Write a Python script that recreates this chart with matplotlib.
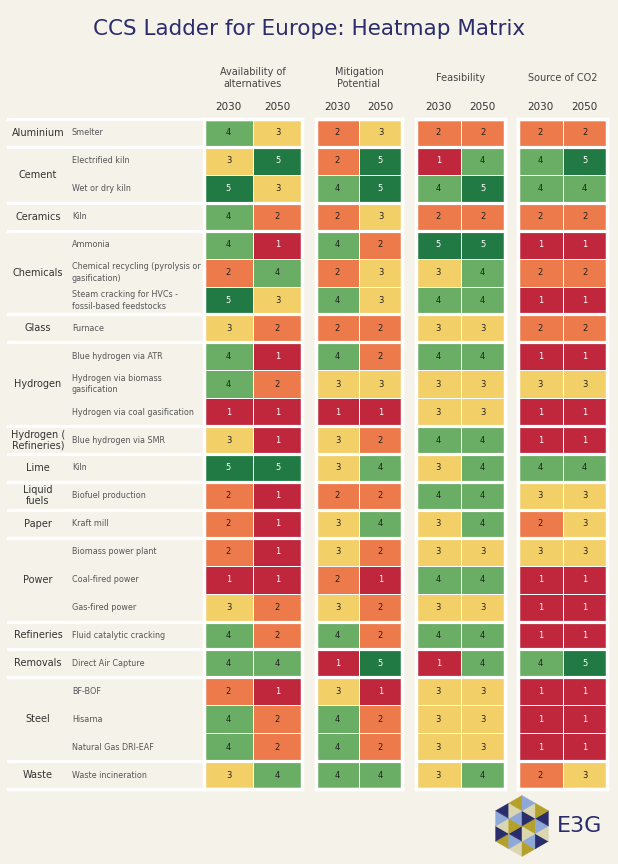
import textwrap
import matplotlib
matplotlib.use("Agg")
import matplotlib.pyplot as plt
import numpy as np
from matplotlib.colors import ListedColormap, BoundaryNorm
from matplotlib.patches import Polygon

W, H = 618, 864
BG = "#f5f2ea"
NAVY = "#2b2c6b"

sectors = ["Aluminium", "Cement", "Cement", "Ceramics", "Chemicals", "Chemicals", "Chemicals",
           "Glass", "Hydrogen", "Hydrogen", "Hydrogen", "Hydrogen ( Refineries)", "Lime",
           "Liquid fuels", "Paper", "Power", "Power", "Power", "Refineries", "Removals",
           "Steel", "Steel", "Steel", "Waste"]
processes = ["Smelter", "Electrified kiln", "Wet or dry kiln", "Kiln", "Ammonia",
             "Chemical recycling (pyrolysis or gasification)",
             "Steam cracking for HVCs - fossil-based feedstocks", "Furnace",
             "Blue hydrogen via ATR", "Hydrogen via biomass gasification",
             "Hydrogen via coal gasification", "Blue hydrogen via SMR", "Kiln",
             "Biofuel production", "Kraft mill", "Biomass power plant", "Coal-fired power",
             "Gas-fired power", "Fluid catalytic cracking", "Direct Air Capture", "BF-BOF",
             "Hisarna", "Natural Gas DRI-EAF", "Waste incineration"]

avail_2030 = [4, 3, 5, 4, 4, 2, 5, 3, 4, 4, 1, 3, 5, 2, 2, 2, 1, 3, 4, 4, 2, 4, 4, 3]
avail_2050 = [3, 5, 3, 2, 1, 4, 3, 2, 1, 2, 1, 1, 5, 1, 1, 1, 1, 2, 2, 4, 1, 2, 2, 4]
mitig_2030 = [2, 2, 4, 2, 4, 2, 4, 2, 4, 3, 1, 3, 3, 2, 3, 3, 2, 3, 4, 1, 3, 4, 4, 4]
mitig_2050 = [3, 5, 5, 3, 2, 3, 3, 2, 2, 3, 1, 2, 4, 2, 4, 2, 1, 2, 2, 5, 1, 2, 2, 4]
feas_2030 = [2, 1, 4, 2, 5, 3, 4, 3, 4, 3, 3, 4, 3, 4, 3, 3, 4, 3, 4, 1, 3, 3, 3, 3]
feas_2050 = [2, 4, 5, 2, 5, 4, 4, 3, 4, 3, 3, 4, 4, 4, 4, 3, 4, 3, 4, 4, 3, 3, 3, 4]
source_2030 = [2, 4, 4, 2, 1, 2, 1, 2, 1, 3, 1, 1, 4, 3, 2, 3, 1, 1, 1, 4, 1, 1, 1, 2]
source_2050 = [2, 5, 4, 2, 1, 2, 1, 2, 1, 3, 1, 1, 4, 3, 3, 3, 1, 1, 1, 5, 1, 1, 1, 3]

criteria = ["Availability of\nalternatives", "Mitigation\nPotential", "Feasibility", "Source of CO2"]
years = ["2030", "2050"]
score_colors = ["#c0273d", "#ed7a4a", "#f3cf68", "#6aae65", "#217a44"]


def box(x0, y0, x1, y1):
    # pixel box (top-left origin) -> figure rect
    return [x0 / W, 1 - y1 / H, (x1 - x0) / W, (y1 - y0) / H]


fig = plt.figure(figsize=(W / 100, H / 100), dpi=100, facecolor=BG)
fig.text(0.5, 1 - 29 / H, "CCS Ladder for Europe: Heatmap Matrix", ha="center", va="center",
         fontsize=15.5, color=NAVY)

TOP, BOT = 119, 789
n = len(processes)
bounds = [0] + [i for i in range(1, n) if sectors[i] != sectors[i - 1]] + [n]

cmap = ListedColormap(score_colors)
norm = BoundaryNorm(np.arange(0.5, 6), cmap.N)

# label column
lab = fig.add_axes(box(8, TOP, 204, BOT))
lab.set_xlim(0, 196); lab.set_ylim(n, 0); lab.axis("off")
for b in bounds:
    lab.axhline(b, color="white", lw=2.3, clip_on=False)
for a, b in zip(bounds[:-1], bounds[1:]):
    lab.text(30, (a + b) / 2, textwrap.fill(sectors[a], 10, break_long_words=False),
             ha="center", va="center", fontsize=7, color="#333333", linespacing=1.1)
for i, p in enumerate(processes):
    lab.text(64, i + 0.5, textwrap.fill(p, 32, break_on_hyphens=False), ha="left", va="center",
             fontsize=5.8, color="#555555", linespacing=1.3)

blocks = [(204, 302), (316, 402), (416, 505), (518, 607)]
values = [(avail_2030, avail_2050), (mitig_2030, mitig_2050),
          (feas_2030, feas_2050), (source_2030, source_2050)]
for (x0, x1), title, (v30, v50) in zip(blocks, criteria, values):
    ax = fig.add_axes(box(x0, TOP, x1, BOT))
    z = np.column_stack([v30, v50])
    ax.pcolormesh(z, cmap=cmap, norm=norm, edgecolors="white", linewidth=0.5)
    ax.set_xlim(0, 2); ax.set_ylim(n, 0)
    for i in range(n):
        for j in range(2):
            ax.text(j + 0.5, i + 0.5, str(z[i, j]), ha="center", va="center", fontsize=6,
                    color="white" if z[i, j] in (1, 5) else "#222222")
    for b in bounds:
        ax.axhline(b, color="white", lw=2.3, clip_on=False)
    ax.set_xticks([]); ax.set_yticks([])
    for s in ax.spines.values():
        s.set_color("white"); s.set_linewidth(2.5)
    fig.text((x0 + x1) / 2 / W, 1 - 78 / H, title, ha="center", va="center", fontsize=7,
             color="#444444", linespacing=1.15)
    for k, yr in enumerate(years):
        fig.text((x0 + (x1 - x0) * (2 * k + 1) / 4) / W, 1 - 107 / H, yr, ha="center",
                 va="center", fontsize=7.5, color="#333333")

# E3G logo
lg = fig.add_axes(box(490, 793, 554, 859))
lg.set_aspect("equal"); lg.axis("off")
R, m = 1.0, 2
s = R / m
e1 = np.array([0.0, 1.0]) * s
e2 = np.array([np.sqrt(3) / 2, 0.5]) * s
logo_cols = [NAVY, "#8ea8d8", "#b3a12c", "#dcd6b0"]
for i in range(-2 * m, 2 * m + 1):
    for j in range(-2 * m, 2 * m + 1):
        p = i * e1 + j * e2
        for kind, tri in enumerate([[p, p + e1, p + e2], [p + e1, p + e1 + e2, p + e2]]):
            c = np.mean(tri, axis=0)
            if abs(c[0]) <= np.sqrt(3) / 2 * R + 1e-9 and abs(c[0]) / np.sqrt(3) + abs(c[1]) <= R + 1e-9:
                col = logo_cols[(i + 2 * j + 3 * kind) % 4]
                lg.add_patch(Polygon(tri, closed=True, facecolor=col, edgecolor=col, lw=0.3))
lg.set_xlim(-1.05, 1.05); lg.set_ylim(-1.05, 1.05)
fig.text(557 / W, 1 - 826 / H, "E3G", ha="left", va="center", fontsize=16, color=NAVY)

fig.savefig("out.png", dpi=100, facecolor=BG)
